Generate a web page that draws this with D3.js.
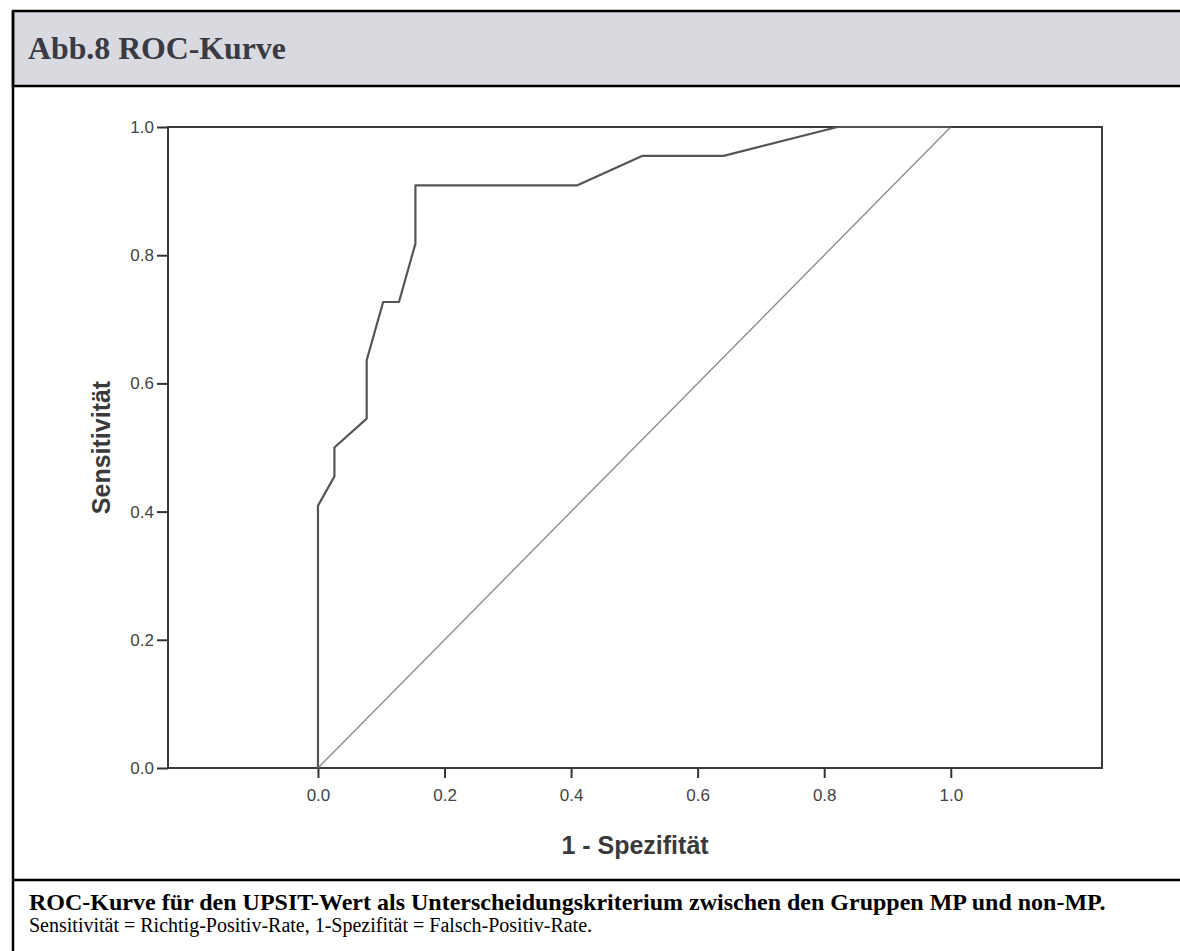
<!DOCTYPE html>
<html>
<head>
<meta charset="utf-8">
<script src="https://cdn.jsdelivr.net/npm/d3@7"></script>
<style>
  body { margin: 0; background: #fff; }
  svg { display: block; }
</style>
</head>
<body>
<script>
// ROC curve points (1 - specificity, sensitivity)
var fpr = [0, 0, 0.026, 0.026, 0.077, 0.077, 0.103, 0.128, 0.154, 0.154, 0.410, 0.513, 0.641, 0.821, 1.0];
var tpr = [0, 0.409, 0.455, 0.500, 0.545, 0.636, 0.727, 0.727, 0.818, 0.909, 0.909, 0.955, 0.955, 1.0, 1.0];

// reference line
var diagX = [0, 1];
var diagY = [0, 1];

var xTicks = [0, 0.2, 0.4, 0.6, 0.8, 1.0];
var yTicks = [0, 0.2, 0.4, 0.6, 0.8, 1.0];

var title = "Abb.8 ROC-Kurve";
var xTitle = "1 - Spezifität";
var yTitle = "Sensitivität";
var caption1 = "ROC-Kurve für den UPSIT-Wert als Unterscheidungskriterium zwischen den Gruppen MP und non-MP.";
var caption2 = "Sensitivität = Richtig-Positiv-Rate, 1-Spezifität = Falsch-Positiv-Rate.";

var w = 1180;
var h = 951;

// plot frame
const plot = {left: 168, right: 1102, top: 127, bottom: 768};

var svg = d3.select("body")
            .append("svg")
            .attr("width", w)
            .attr("height", h);

svg.append("rect")
   .attr("width", w)
   .attr("height", h)
   .attr("fill", "#fff");

// header box
svg.append("rect")
   .attr("x", 13)
   .attr("y", 11)
   .attr("width", w)
   .attr("height", 75)
   .attr("fill", "#d9dadf")
   .attr("stroke", "#000")
   .attr("stroke-width", 2.5);

// left border of the whole box + separator above the caption
svg.append("line")
   .attr("x1", 13).attr("x2", 13)
   .attr("y1", 11).attr("y2", h)
   .attr("stroke", "#000")
   .attr("stroke-width", 2.5);

svg.append("line")
   .attr("x1", 13).attr("x2", w)
   .attr("y1", 880).attr("y2", 880)
   .attr("stroke", "#000")
   .attr("stroke-width", 2.5);

svg.append("text")
   .attr("x", 28)
   .attr("y", 59)
   .attr("font-family", "Liberation Serif, Times New Roman, serif")
   .attr("font-weight", "bold")
   .attr("font-size", "31.8px")
   .attr("fill", "#3a3a44")
   .text(title);

// scales
var xScale = d3.scaleLinear()
               .domain([-0.237, 1.239])
               .range([plot.left, plot.right]);

var yScale = d3.scaleLinear()
               .domain([0, 1])
               .range([plot.bottom, plot.top]);

// axes
const xAxis = d3.axisBottom(xScale)
                .tickValues(xTicks)
                .tickSize(10)
                .tickPadding(11)
                .tickFormat(d3.format(".1f"));

const yAxis = d3.axisLeft(yScale)
                .tickValues(yTicks)
                .tickSize(11)
                .tickPadding(3)
                .tickFormat(d3.format(".1f"));

var gx = svg.append("g")
            .attr("transform", "translate(0," + plot.bottom + ")")
            .call(xAxis);

var gy = svg.append("g")
            .attr("transform", "translate(" + plot.left + ",0)")
            .call(yAxis);

[gx, gy].forEach(function(g) {
  g.select(".domain").remove();
  g.selectAll(".tick line")
   .attr("stroke", "#333")
   .attr("stroke-width", 2);
  g.selectAll(".tick text")
   .attr("font-family", "Liberation Sans, Arial, sans-serif")
   .attr("font-size", "17px")
   .attr("fill", "#444");
});

// frame round the plot
svg.append("rect")
   .attr("x", plot.left)
   .attr("y", plot.top)
   .attr("width", plot.right - plot.left)
   .attr("height", plot.bottom - plot.top)
   .attr("fill", "none")
   .attr("stroke", "#3a3a3a")
   .attr("stroke-width", 2);

// diagonal
var diag = diagX.map(function(d, i) { return [d, diagY[i]]; });
var line = d3.line()
             .x(function(d) { return xScale(d[0]); })
             .y(function(d) { return yScale(d[1]); });

svg.append("path")
   .datum(diag)
   .attr("d", line)
   .attr("fill", "none")
   .attr("stroke", "#8e8e8e")
   .attr("stroke-width", 1.4);

// roc curve
var roc = fpr.map(function(d, i) { return [d, tpr[i]]; });
svg.append("path")
   .datum(roc)
   .attr("d", line)
   .attr("fill", "none")
   .attr("stroke", "#555")
   .attr("stroke-width", 2.2)
   .attr("stroke-linejoin", "round");

// axis titles
svg.append("text")
   .attr("transform", "translate(110," + ((plot.top + plot.bottom) / 2) + ") rotate(-90)")
   .attr("text-anchor", "middle")
   .attr("font-family", "Liberation Sans, Arial, sans-serif")
   .attr("font-weight", "bold")
   .attr("font-size", "25px")
   .attr("fill", "#3a3a3a")
   .text(yTitle);

svg.append("text")
   .attr("x", (plot.left + plot.right) / 2)
   .attr("y", 854)
   .attr("text-anchor", "middle")
   .attr("font-family", "Liberation Sans, Arial, sans-serif")
   .attr("font-weight", "bold")
   .attr("font-size", "25px")
   .attr("fill", "#3a3a3a")
   .text(xTitle);

// caption
svg.append("text")
   .attr("x", 29)
   .attr("y", 910)
   .attr("font-family", "Liberation Serif, Times New Roman, serif")
   .attr("font-weight", "bold")
   .attr("font-size", "24px")
   .attr("fill", "#000")
   .text(caption1);

svg.append("text")
   .attr("x", 29)
   .attr("y", 932)
   .attr("font-family", "Liberation Serif, Times New Roman, serif")
   .attr("font-size", "20px")
   .attr("fill", "#000")
   .text(caption2);
</script>
</body>
</html>
